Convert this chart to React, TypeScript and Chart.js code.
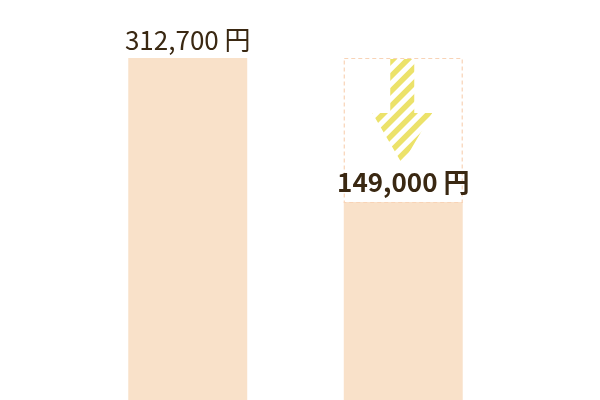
import React, { useEffect, useRef } from "react";
import { Chart, registerables } from "chart.js";

Chart.register(...registerables);

const categories = ["現在", "見直し後"];
const values = [312700, 149000];
const valueLabels = ["312,700 円", "149,000 円"];
const labelWeights = ["400", "700"];
const axisMin = -76000;
const axisMax = 378600;

const barColor = "#f9e1c9";
const dashColor = "#f8d3b6";
const stripeColor = "#ece26a";
const textColor = "#3a2812";

const annotate = {
	id: "annotate",
	afterDatasetsDraw(chart: any) {
		const ctx = chart.ctx;
		const y = chart.scales.y;
		const bars = chart.getDatasetMeta(0).data;

		// dashed outline showing the old amount on the second bar
		const b = bars[1];
		const left = b.x - b.width / 2;
		const right = b.x + b.width / 2;
		const top = y.getPixelForValue(values[0]);
		const bottom = b.y;
		ctx.save();
		ctx.setLineDash([4, 3]);
		ctx.strokeStyle = dashColor;
		ctx.lineWidth = 1.2;
		ctx.strokeRect(left + 0.5, top + 0.5, right - left - 1, bottom - top);
		ctx.restore();

		// striped down arrow
		const cx = b.x - 1;
		const shaftHalf = 12;
		const headHalf = 30;
		const headTop = top + 55;
		const tip = top + 106;
		ctx.save();
		ctx.beginPath();
		ctx.moveTo(cx - shaftHalf, top + 1);
		ctx.lineTo(cx + shaftHalf, top + 1);
		ctx.lineTo(cx + shaftHalf, headTop);
		ctx.lineTo(cx + headHalf, headTop);
		ctx.lineTo(cx, tip);
		ctx.lineTo(cx - headHalf, headTop);
		ctx.lineTo(cx - shaftHalf, headTop);
		ctx.closePath();
		ctx.clip();
		ctx.strokeStyle = stripeColor;
		ctx.lineWidth = 5.5;
		// stripes along x + y = c, 15px apart horizontally
		for (let c = cx - 8 + top - 150; c < cx + tip + 150; c += 15) {
			ctx.beginPath();
			ctx.moveTo(c - (top - 20), top - 20);
			ctx.lineTo(c - (tip + 20), tip + 20);
			ctx.stroke();
		}
		ctx.restore();

		// value labels
		ctx.save();
		ctx.fillStyle = textColor;
		ctx.textAlign = "center";
		ctx.textBaseline = "alphabetic";
		bars.forEach((bar: any, i: number) => {
			ctx.font = `${labelWeights[i]} 26px 'Noto Sans CJK JP'`;
			ctx.fillText(valueLabels[i], bar.x, bar.y - (i === 0 ? 8 : 10));
		});
		ctx.restore();
	},
};

const App = () => {
	const canvasRef = useRef<HTMLCanvasElement>(null);

	useEffect(() => {
		document.body.style.margin = "0";
		if (!canvasRef.current) return;

		const chart = new Chart(canvasRef.current, {
			type: "bar",
			data: {
				labels: categories,
				datasets: [
					{
						data: values,
						backgroundColor: barColor,
						base: axisMin,
						barPercentage: 0.552,
						categoryPercentage: 1,
					} as any,
				],
			},
			options: {
				animation: false,
				responsive: true,
				maintainAspectRatio: false,
				layout: { padding: { left: 80, right: 89, top: 0, bottom: 0 } },
				plugins: {
					legend: { display: false },
					tooltip: { enabled: false },
				},
				scales: {
					x: { display: false },
					y: { display: false, min: axisMin, max: axisMax },
				},
			},
			plugins: [annotate],
		});

		return () => {
			chart.destroy();
		};
	}, []);

	return (
		<div style={{ width: 600, height: 400, position: "relative" }}>
			<canvas ref={canvasRef} />
		</div>
	);
};
export default App;
